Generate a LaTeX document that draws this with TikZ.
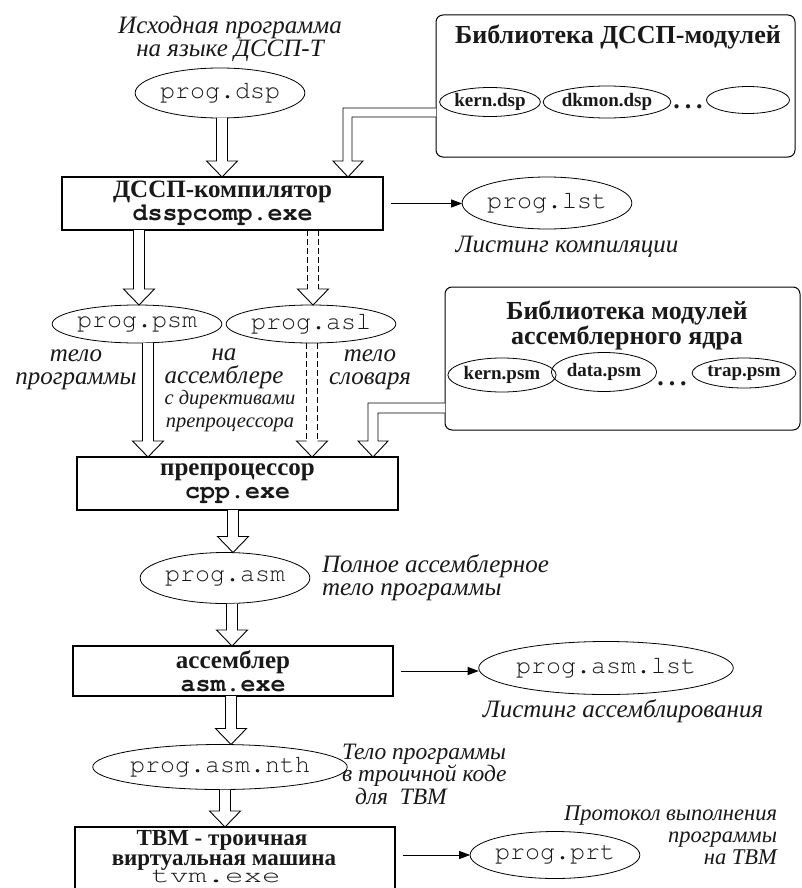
\documentclass[tikz,border=0pt]{standalone}
\usepackage{fontspec}
\usepackage{graphicx}
\setmainfont{Liberation Serif}
\setmonofont{TeX Gyre Cursor}
\usetikzlibrary{shapes.geometric,arrows.meta,calc}
\newcommand\fs[2]{\fontsize{#1}{#2}\selectfont}
% hollow double-line arrow: #1 start (gives x), #2 end node anchor (gives y)
\newcommand\hol[2]{\draw[hol] let \p1=(#1),\p2=(#2) in
  (\x1-5.5pt,\y1) -- (\x1-5.5pt,\y2+16pt) -- (\x1-15.5pt,\y2+16pt) -- (\x1,\y2)
  -- (\x1+15.5pt,\y2+16pt) -- (\x1+5.5pt,\y2+16pt) -- (\x1+5.5pt,\y1);}
\newcommand\dhol[2]{\draw[line width=0.9pt,dash pattern=on 6pt off 3pt] let \p1=(#1),\p2=(#2) in
  (\x1-5.5pt,\y1) -- (\x1-5.5pt,\y2+16pt) (\x1+5.5pt,\y1) -- (\x1+5.5pt,\y2+16pt);
  \draw[hol] let \p1=(#1),\p2=(#2) in
  (\x1-5.5pt,\y2+16pt) -- (\x1-15.5pt,\y2+16pt) -- (\x1,\y2)
  -- (\x1+15.5pt,\y2+16pt) -- (\x1+5.5pt,\y2+16pt);}
\begin{document}
\begin{tikzpicture}[x=1pt,y=-1pt,
  every node/.style={inner sep=0pt,outer sep=0pt,text=black!90},
  boxn/.style={draw,line width=1.1pt,rectangle,align=center,font=\fs{25}{23}},
  ell/.style={draw,ellipse,line width=0.8pt},
  libbox/.style={draw,line width=1pt,rounded corners=7pt},
  lbl/.style={font=\fs{25}{23}\itshape,align=center},
  slbl/.style={font=\fs{20.5}{23}\itshape,align=center},
  mono/.style={font=\fs{25}{25}\ttfamily},
  libell/.style={ell,font=\fs{19}{19}\bfseries},
  libtitle/.style={font=\fs{26}{25}\bfseries,align=center},
  dots/.style={font=\fs{26}{26}\bfseries},
  tvmtext/.style={anchor=base,font=\fs{23}{23}\bfseries},
  thinarrow/.style={line width=0.9pt,-{Triangle[length=11pt,width=8pt]},shorten <=8pt},
  hol/.style={line width=0.9pt,fill=white,line join=miter},
]
\fill[white] (0,0) rectangle (802,888);
\useasboundingbox (0,0) rectangle (802,888);
\clip (0,0) rectangle (802,888);

% ---- top: source and compiler
\node[lbl] (srclbl) at (230,39) {Исходная программа\\на языке ДССП-Т};
\node[ell,mono,minimum width=146pt,minimum height=50pt] (dsp) at (220,93) {prog.dsp};
\node[boxn,minimum width=321pt,minimum height=53pt] (comp) at (222.5,203.5)
  {{\bfseries ДССП-компилятор}\\{\ttfamily\bfseries dsspcomp.exe}};

% library of DSSP modules
\node[libbox,minimum width=359pt,minimum height=142pt] (lib1) at (615.5,86) {};
\node[libtitle] (lib1t) at (618,37) {Библиотека ДССП-модулей};
\node[libell,minimum width=95pt,minimum height=29pt] (kdsp) at (490,102) {kern.dsp};
\node[libell,minimum width=120pt,minimum height=32pt] (dkmon) at (607,102) {dkmon.dsp};
\node[dots] (dots1) at (688,107) {.\hspace{5pt}.\hspace{5pt}.};
\node[ell,minimum width=83pt,minimum height=27pt] (emp) at (748,100) {};

% listing
\node[ell,mono,minimum width=150pt,minimum height=52pt] (lst) at (547,203) {prog.lst};
\node[lbl] (lstl) at (567,247) {Листинг компиляции};
\draw[thinarrow] (comp.east) -- (comp.east -| lst.west);

% ---- psm / asl
\node[ell,mono,minimum width=145pt,minimum height=38pt] (psm) at (137,324) {prog.psm};
\node[ell,mono,minimum width=145pt,minimum height=38pt] (asl) at (311,324) {prog.asl};
\node[lbl] (tl1) at (76,370) {тело\\программы};
\node[lbl] (tl2) at (224,369) {на\\ассемблере};
\node[slbl] (tl3) at (230,411) {с директивами\\препроцессора};
\node[lbl] (tl4) at (370,370) {тело\\словаря};

% library of assembler kernel modules
\node[libbox,minimum width=355pt,minimum height=143pt] (lib2) at (622.5,358.5) {};
\node[libtitle] (lib2t) at (627,325) {Библиотека модулей\\ассемблерного ядра};
\node[libell,minimum width=106pt,minimum height=34pt] (kpsm) at (502,375) {kern.psm};
\node[libell,minimum width=92pt,minimum height=39pt] (dpsm) at (604,372) {data.psm};
\node[dots] (dots2) at (672,384) {.\hspace{5pt}.\hspace{5pt}.};
\node[libell,minimum width=98pt,minimum height=30pt] (tpsm) at (744,373) {trap.psm};

% preprocessor
\node[boxn,minimum width=321pt,minimum height=53pt] (pre) at (237.5,483.5)
  {{\bfseries препроцессор}\\{\ttfamily\bfseries cpp.exe}};

% ---- asm
\node[ell,mono,minimum width=146pt,minimum height=51pt] (asm) at (225,578) {prog.asm};
\node[lbl,align=left,anchor=west] (asml) at (322,578) {Полное ассемблерное\\тело программы};
\node[boxn,minimum width=320pt,minimum height=50pt] (asmb) at (233,671)
  {{\bfseries ассемблер}\\{\ttfamily\bfseries asm.exe}};
\node[ell,mono,minimum width=243pt,minimum height=53pt] (asmlst) at (606,668) {prog.asm.lst};
\node[lbl] (asmlstl) at (623,711) {Листинг ассемблирования};
\draw[thinarrow] (asmb.east) -- (asmb.east -| asmlst.west);

% ---- nth / tvm
\node[ell,mono,minimum width=226pt,minimum height=45pt] (nth) at (220,767) {prog.asm.nth};
\node[lbl,align=left,anchor=west,font=\fs{23.5}{22.5}\itshape] (nthl) at (342,774)
  {Тело программы\\в троичной коде\\\hspace*{13pt}для\ \ ТВМ};
\node[draw,line width=1.1pt,minimum width=320pt,minimum height=73pt] (tvm) at (235,863.5) {};
\node[tvmtext] (tvmt1) at (222,845) {ТВМ - троичная};
\node[tvmtext] (tvmt2) at (224,865) {виртуальная машина};
\node[anchor=base,font=\fs{22}{22}\ttfamily] (tvmt3) at (216,882) {\scalebox{1.4}[1]{tvm.exe}};
\node[ell,mono,minimum width=150pt,minimum height=47pt] (prt) at (555,855) {prog.prt};
\node[lbl,align=right,anchor=east,font=\fs{22.5}{22}\itshape] (prtl) at (777,835)
  {Протокол выполнения\\программы\\на ТВМ};
\draw[thinarrow] (prt.west -| tvm.east) -- (prt.west);

% ---- hollow arrows
\hol{222,0 |- dsp.south}{comp.north}
\hol{139,0 |- comp.south}{psm.north}
\dhol{313,0 |- comp.south}{asl.north}
\hol{148,0 |- psm.south}{pre.north}
\dhol{312,0 |- asl.south}{pre.north}
\hol{233,0 |- pre.south}{asm.north}
\hol{232,0 |- asm.south}{asmb.north}
\hol{231,0 |- asmb.south}{nth.north}
\hol{225,0 |- nth.south}{tvm.north}

% bent arrows from the libraries
\draw[hol] let \p1=(348,0 |- comp.north) in
  (lib1.west |- 0,108) -- (343,108) -- (\x1-5pt,\y1+16pt) -- (\x1-15pt,\y1+16pt)
  -- (\x1,\y1) -- (\x1+15pt,\y1+16pt) -- (\x1+4pt,\y1+16pt) -- (352,117) -- (lib1.west |- 0,117);
\draw[hol] let \p1=(373,0 |- pre.north) in
  (lib2.west |- 0,403) -- (368,403) -- (\x1-5pt,\y1+16pt) -- (\x1-15pt,\y1+16pt)
  -- (\x1,\y1) -- (\x1+15pt,\y1+16pt) -- (\x1+5pt,\y1+16pt) -- (378,413) -- (lib2.west |- 0,413);
\end{tikzpicture}
\end{document}
